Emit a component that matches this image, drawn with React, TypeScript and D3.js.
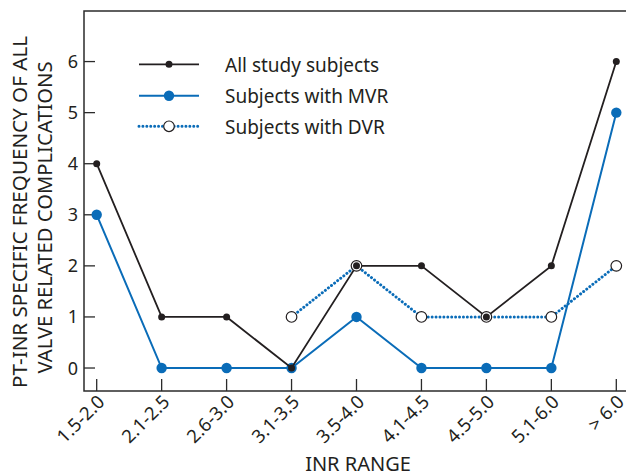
import React from "react";
import * as d3 from "d3";

const categories = ["1.5-2.0", "2.1-2.5", "2.6-3.0", "3.1-3.5", "3.5-4.0", "4.1-4.5", "4.5-5.0", "5.1-6.0", "> 6.0"];
const allSubjects: (number | null)[] = [4, 1, 1, 0, 2, 2, 1, 2, 6];
const mvrSubjects: (number | null)[] = [3, 0, 0, 0, 1, 0, 0, 0, 5];
const dvrSubjects: (number | null)[] = [null, null, null, 1, 2, 1, 1, 1, 2];
const yTicks = [0, 1, 2, 3, 4, 5, 6];
const legendLabels = ["All study subjects", "Subjects with MVR", "Subjects with DVR"];

const W = 626;
const H = 473;
const BLACK = "#231f20";
const BLUE = "#0a6cb8";
const FONT = "'Noto Sans', sans-serif";

export default function App() {
  const left = 84, top = 11, bottom = 391;
  const x = d3.scalePoint<string>().domain(categories).range([96.7, 616.3]);
  const y = d3.scaleLinear().domain([-0.45, 6.99]).range([bottom, top]);

  const line = d3
    .line<number | null>()
    .defined((d) => d !== null)
    .x((_, i) => x(categories[i]) as number)
    .y((d) => y(d as number));

  const pts = (arr: (number | null)[]) =>
    arr.map((v, i) => ({ v, c: categories[i] })).filter((p) => p.v !== null) as { v: number; c: string }[];

  const legendY = [64.3, 95.7, 126.3];

  return (
    <svg width={W} height={H} style={{ position: "absolute", left: 0, top: 0, background: "#fff" }} fontFamily={FONT}>
      <rect width={W} height={H} fill="#fff" />
      {/* frame */}
      <path d={`M${W},${top}H${left}V${bottom}H${W}`} fill="none" stroke="#2b2b2b" strokeWidth={1.5} />
      {/* y ticks */}
      {yTicks.map((t) => (
        <g key={t}>
          <line x1={left} x2={left + 11} y1={y(t)} y2={y(t)} stroke="#2b2b2b" strokeWidth={1.3} />
          <text x={78} y={y(t) + 6.5} textAnchor="end" fontSize={18} fill={BLACK}>
            {t}
          </text>
        </g>
      ))}
      {/* x ticks */}
      {categories.map((c) => (
        <g key={c}>
          <line x1={x(c)} x2={x(c)} y1={bottom} y2={bottom - 12} stroke="#2b2b2b" strokeWidth={1.3} />
          <text
            transform={`translate(${(x(c) as number) + 9},${403}) rotate(-45)`}
            textAnchor="end"
            fontSize={18.5}
            fill={BLACK}
          >
            {c}
          </text>
        </g>
      ))}
      {/* axis titles */}
      <text x={358} y={471} textAnchor="middle" fontSize={20} fill={BLACK}>
        INR RANGE
      </text>
      <text
        transform="translate(26.7,212) rotate(-90)"
        textAnchor="middle"
        fontSize={20.5}
        fill={BLACK}
        textLength={352}
        lengthAdjust="spacingAndGlyphs"
      >
        PT-INR SPECIFIC FREQUENCY OF ALL
      </text>
      <text
        transform="translate(51.7,217.5) rotate(-90)"
        textAnchor="middle"
        fontSize={20.5}
        fill={BLACK}
        textLength={312}
        lengthAdjust="spacingAndGlyphs"
      >
        VALVE RELATED COMPLICATIONS
      </text>

      {/* MVR series */}
      <path d={line(mvrSubjects) || ""} fill="none" stroke={BLUE} strokeWidth={2} />
      {pts(mvrSubjects).map((p) => (
        <circle key={"m" + p.c} cx={x(p.c)} cy={y(p.v)} r={5.2} fill={BLUE} />
      ))}
      {/* DVR line */}
      <path
        d={line(dvrSubjects) || ""}
        fill="none"
        stroke={BLUE}
        strokeWidth={3}
        strokeDasharray="0.01 3.9"
        strokeLinecap="round"
      />
      {/* All subjects line */}
      <path d={line(allSubjects) || ""} fill="none" stroke={BLACK} strokeWidth={1.8} />
      {/* DVR markers */}
      {pts(dvrSubjects).map((p) => (
        <circle key={"d" + p.c} cx={x(p.c)} cy={y(p.v)} r={5.3} fill="#fff" stroke={BLACK} strokeWidth={1.2} />
      ))}
      {pts(allSubjects).map((p) => (
        <circle key={"a" + p.c} cx={x(p.c)} cy={y(p.v)} r={3.5} fill={BLACK} />
      ))}

      {/* legend */}
      <g>
        <line x1={139} x2={199} y1={legendY[0]} y2={legendY[0]} stroke={BLACK} strokeWidth={1.8} />
        <circle cx={169} cy={legendY[0]} r={3.5} fill={BLACK} />
        <line x1={139} x2={199} y1={legendY[1]} y2={legendY[1]} stroke={BLUE} strokeWidth={2} />
        <circle cx={169} cy={legendY[1]} r={5.2} fill={BLUE} />
        <line
          x1={139}
          x2={199}
          y1={legendY[2]}
          y2={legendY[2]}
          stroke={BLUE}
          strokeWidth={3}
          strokeDasharray="0.01 3.9"
          strokeLinecap="round"
        />
        <circle cx={169} cy={legendY[2]} r={5.3} fill="#fff" stroke={BLACK} strokeWidth={1.2} />
        {legendLabels.map((l, i) => (
          <text key={l} x={225} y={legendY[i] + 7.2} fontSize={19} fill={BLACK}>
            {l}
          </text>
        ))}
      </g>
    </svg>
  );
}
